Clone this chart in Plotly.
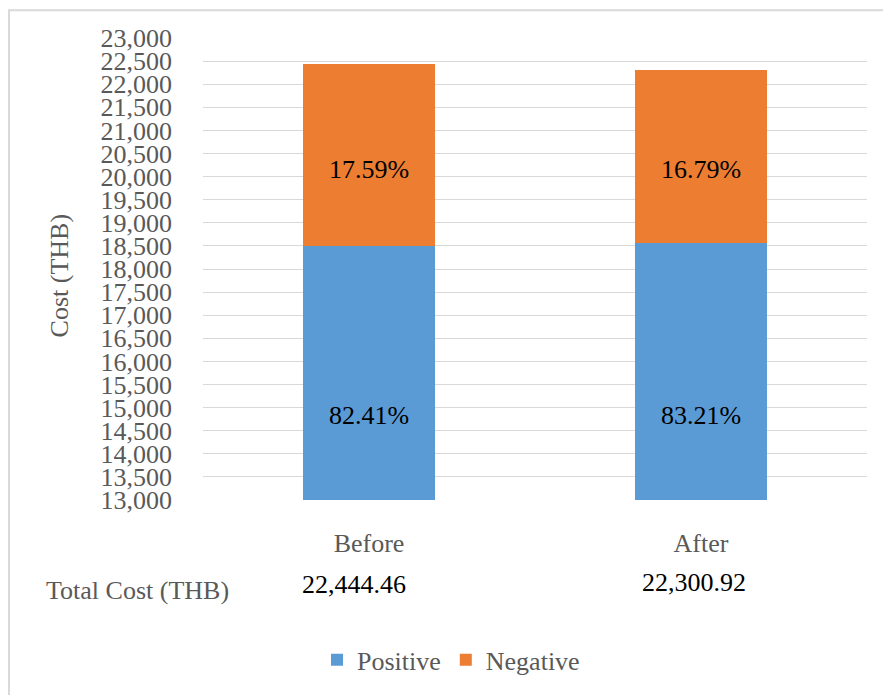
import plotly.graph_objects as go

# Cost split per scenario
categories = ["Before", "After"]
total_cost = [22444.46, 22300.92]
positive_pct = [82.41, 83.21]
negative_pct = [17.59, 16.79]
tick_values = list(range(13000, 23001, 500))

positive_cost = [t * p / 100 for t, p in zip(total_cost, positive_pct)]
negative_cost = [t * p / 100 for t, p in zip(total_cost, negative_pct)]

FONT = "Liberation Serif"
GRAY = "#595959"
BLUE = "#5B9BD5"
ORANGE = "#ED7D31"

W, H = 883, 695
L, R, T, B = 203, 16, 38, 192
PW, PH = W - L - R, H - T - B


def px_x(x):
    return (x - L) / PW


def px_y(y):
    return (H - B - y) / PH


def label(text, color="black", **kw):
    base = dict(text=text, showarrow=False, xanchor="center", yanchor="middle",
                font=dict(family=FONT, size=26, color=color))
    base.update(kw)
    return base


fig = go.Figure()
fig.add_bar(x=categories, y=positive_cost, name="Positive", marker_color=BLUE,
            marker_line_width=0)
fig.add_bar(x=categories, y=negative_cost, name="Negative", marker_color=ORANGE,
            marker_line_width=0)

annotations = []
# percentage labels inside the stacked segments
for cat, pp, npct in zip(categories, positive_pct, negative_pct):
    annotations.append(label(f"{pp:.2f}%", x=cat, xref="x", y=px_y(418), yref="paper"))
    annotations.append(label(f"{npct:.2f}%", x=cat, xref="x", y=px_y(170), yref="paper"))

# total cost row below the category labels
annotations.append(label("Total Cost (THB)", color=GRAY, x=px_x(137.5), xref="paper",
                         y=px_y(594), yref="paper"))
for cat, tot, shift, ypix in zip(categories, total_cost, [-15, -7.5], [588, 586]):
    annotations.append(label(f"{tot:,.2f}", x=cat, xref="x", xshift=shift,
                             y=px_y(ypix), yref="paper"))

# vertical axis title
annotations.append(label("Cost (THB)", color=GRAY, x=px_x(59), xref="paper",
                         y=px_y(277), yref="paper", textangle=-90))

fig.update_layout(
    width=W, height=H,
    margin=dict(l=L, r=R, t=T, b=B, pad=0),
    barmode="stack",
    bargap=0.6,
    paper_bgcolor="white",
    plot_bgcolor="white",
    font=dict(family=FONT, size=26, color=GRAY),
    annotations=annotations,
    legend=dict(orientation="h", x=px_x(451), xanchor="center",
                y=px_y(664), yanchor="middle",
                font=dict(family=FONT, size=26, color=GRAY),
                itemwidth=30, traceorder="normal"),
    shapes=[dict(type="rect", xref="paper", yref="paper",
                 x0=px_x(9), x1=px_x(W + 20), y0=px_y(H + 20), y1=px_y(10),
                 line=dict(color="#D9D9D9", width=2), fillcolor="rgba(0,0,0,0)",
                 layer="below")],
)

fig.update_xaxes(showgrid=False, showline=False, ticks="", zeroline=False,
                 tickfont=dict(family=FONT, size=26, color=GRAY),
                 ticklabelstandoff=25)
fig.update_yaxes(range=[13000, 23000], tickvals=tick_values,
                 tickformat=",d", showgrid=True, gridcolor="#D9D9D9", gridwidth=1.3,
                 zeroline=False, showline=False, ticks="",
                 tickfont=dict(family=FONT, size=26, color=GRAY),
                 ticklabelstandoff=30)

fig.write_html("out.html")
